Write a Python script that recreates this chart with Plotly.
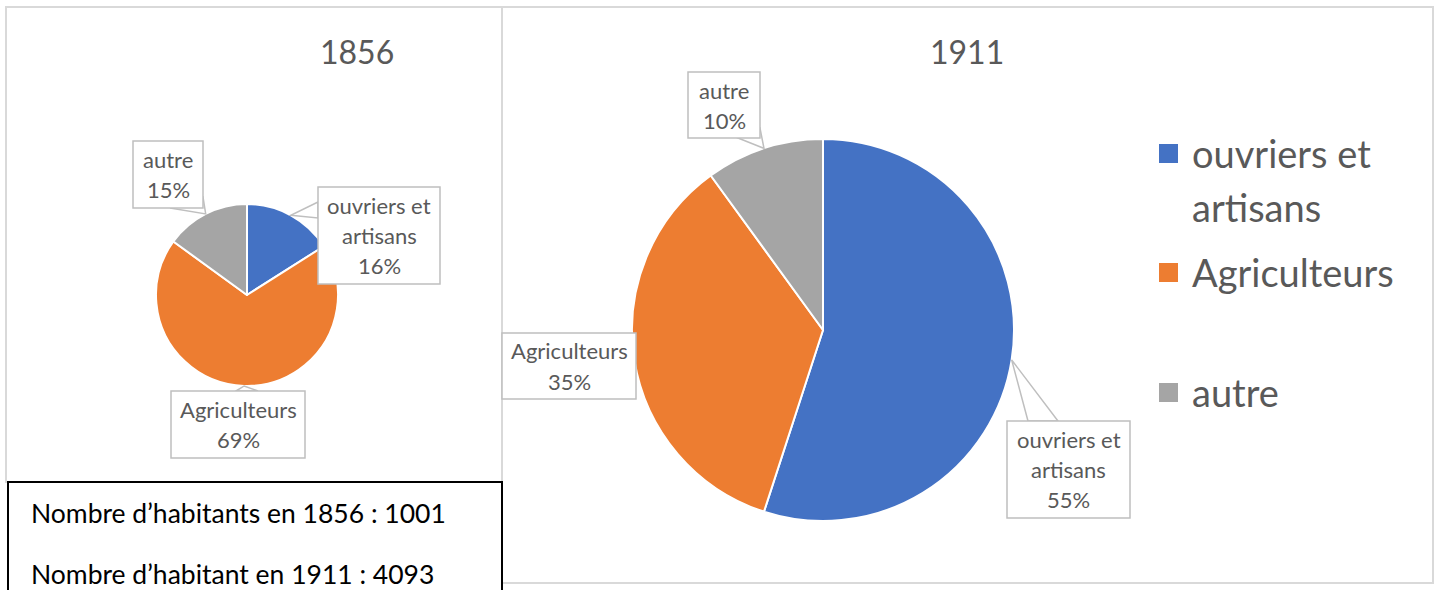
import math
import plotly.graph_objects as go

# ---------------- data ----------------
categories = ["ouvriers et artisans", "Agriculteurs", "autre"]
label_lines = [["ouvriers et", "artisans"], ["Agriculteurs"], ["autre"]]
values_1856 = [16, 69, 15]
values_1911 = [55, 35, 10]
years = ["1856", "1911"]
pop_years = [1856, 1911]
pop_values = [1001, 4093]
pop_phrases = ["Nombre d\u2019habitants en", "Nombre d\u2019habitant en"]
colors = ["#4472C4", "#ED7D31", "#A5A5A5"]

# ---------------- layout helpers ----------------
W, H = 1439, 590
FONT = "Lato"
GREY_TXT = "#595959"


def X(px):
    return px / W


def Y(py):
    return 1 - py / H


# pie geometry (pixels): centre x, centre y, radius
pies = [
    dict(cx=247, cy=295, r=91, values=values_1856, year=years[0]),
    dict(cx=823, cy=330, r=191, values=values_1911, year=years[1]),
]

fig = go.Figure()
for p in pies:
    fig.add_trace(go.Pie(
        labels=categories,
        values=p["values"],
        sort=False,
        direction="clockwise",
        rotation=0,
        marker=dict(colors=colors, line=dict(color="white", width=2)),
        textinfo="none",
        hoverinfo="label+percent",
        showlegend=False,
        domain=dict(x=[X(p["cx"] - p["r"]), X(p["cx"] + p["r"])],
                    y=[Y(p["cy"] + p["r"]), Y(p["cy"] - p["r"])]),
    ))

shapes = []
annotations = []

# chart frames
shapes.append(dict(type="rect", xref="paper", yref="paper", layer="below",
                   x0=X(6), x1=X(502), y0=Y(482), y1=Y(7),
                   line=dict(color="#D9D9D9", width=2)))
shapes.append(dict(type="rect", xref="paper", yref="paper", layer="below",
                   x0=X(502), x1=X(1433), y0=Y(583), y1=Y(7),
                   line=dict(color="#D9D9D9", width=2)))

# titles
title_pos = [(357, 52), (967, 52)]
for (tx, ty), yr in zip(title_pos, years):
    annotations.append(dict(x=X(tx), y=Y(ty), xref="paper", yref="paper",
                            text=yr, showarrow=False, xanchor="center", yanchor="middle",
                            font=dict(family=FONT, size=32, color=GREY_TXT, weight=400)))

# data label boxes: (box x0, y0, x1, y1, pointer base points) per pie, per slice
label_boxes = [
    [
        (318, 187, 440, 284, [(318, 202), (318, 218)]),
        (171, 391, 305, 458, [(236, 391), (258, 391)]),
        (133, 141, 203, 208, [(170, 208), (203, 197)]),
    ],
    [
        (1007, 421, 1130, 518, [(1028, 421), (1058, 421)]),
        (502, 333, 636, 399, None),
        (688, 72, 760, 138, [(738, 138), (760, 128)]),
    ],
]

LINE_SP = 30
for p, boxes in zip(pies, label_boxes):
    total = sum(p["values"])
    cum = 0
    for i, v in enumerate(p["values"]):
        theta = 2 * math.pi * (cum + v / 2) / total
        cum += v
        tipx = p["cx"] + p["r"] * math.sin(theta)
        tipy = p["cy"] - p["r"] * math.cos(theta)
        bx0, by0, bx1, by1, base = boxes[i]
        if base is not None:
            (ax, ay), (bx, by) = base
            path = "M {} {} L {} {} L {} {} Z".format(
                X(ax), Y(ay), X(tipx), Y(tipy), X(bx), Y(by))
            shapes.append(dict(type="path", xref="paper", yref="paper", layer="above",
                               path=path, fillcolor="white",
                               line=dict(color="#BFBFBF", width=1.5)))
        shapes.append(dict(type="rect", xref="paper", yref="paper", layer="above",
                           x0=X(bx0), x1=X(bx1), y0=Y(by1), y1=Y(by0),
                           fillcolor="white", line=dict(color="#BFBFBF", width=1.5)))
        pct = round(100 * v / total)
        lines = label_lines[i] + ["{}%".format(pct)]
        cy = (by0 + by1) / 2
        n = len(lines)
        for k, t in enumerate(lines):
            ly = cy + (k - (n - 1) / 2) * LINE_SP
            annotations.append(dict(x=X((bx0 + bx1) / 2), y=Y(ly), xref="paper", yref="paper",
                                    text=t, showarrow=False, xanchor="center", yanchor="middle",
                                    font=dict(family=FONT, size=22, color=GREY_TXT)))

# legend (manual)
legend_rows = [(153, 207), (272,), (392,)]
swatch_y = [153, 272, 392]
for i, cat in enumerate(categories):
    sy = swatch_y[i]
    shapes.append(dict(type="rect", xref="paper", yref="paper", layer="above",
                       x0=X(1159), x1=X(1178), y0=Y(sy + 10), y1=Y(sy - 9),
                       fillcolor=colors[i], line=dict(width=0)))
    for t, ly in zip(label_lines[i], legend_rows[i]):
        annotations.append(dict(x=X(1190), y=Y(ly), xref="paper", yref="paper",
                                text=t, showarrow=False, xanchor="left", yanchor="middle",
                                font=dict(family=FONT, size=38, color=GREY_TXT)))

# population text box
shapes.append(dict(type="rect", xref="paper", yref="paper", layer="above",
                   x0=X(8), x1=X(502), y0=Y(600), y1=Y(482),
                   fillcolor="white", line=dict(color="black", width=2)))
pop_y = [513, 574]
for phrase, yr, val, ly in zip(pop_phrases, pop_years, pop_values, pop_y):
    annotations.append(dict(x=X(29), y=Y(ly), xref="paper", yref="paper",
                            text="{} {} : {}".format(phrase, yr, val), showarrow=False,
                            xanchor="left", yanchor="middle",
                            font=dict(family=FONT, size=26.5, color="black")))

fig.update_layout(
    width=W, height=H,
    margin=dict(l=0, r=0, t=0, b=0),
    paper_bgcolor="white",
    plot_bgcolor="white",
    shapes=shapes,
    annotations=annotations,
    showlegend=False,
)

fig.write_html("out.html",
               config={"displayModeBar": False},
               post_script="document.body.style.margin='0';document.body.style.overflow='hidden';")
